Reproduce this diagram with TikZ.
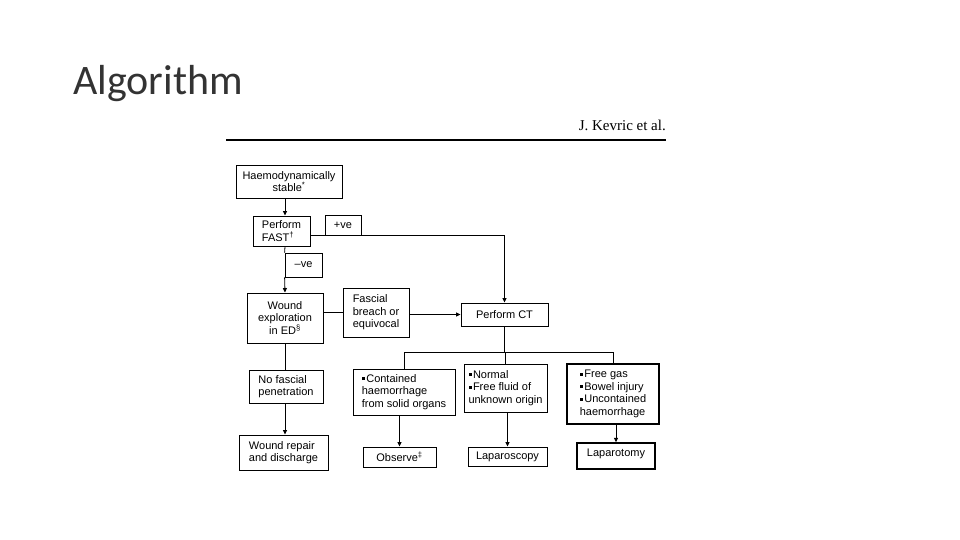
\documentclass[tikz,border=0pt]{standalone}
\usepackage{fontspec}
\usetikzlibrary{arrows.meta}
\newfontfamily\boxfont{Liberation Sans}
\newfontfamily\headfont{Liberation Serif}
\newfontfamily\titlefont{Carlito}
\newcommand{\bul}{\raisebox{2.2pt}{\rule{3pt}{3pt}}\hspace{1.5pt}}

\tikzset{
  box/.style={draw, line width=0.9pt, inner sep=2pt, font=\boxfont\fontsize{11}{12.5}\selectfont},
  tag/.style={box, line width=0.8pt},
  link/.style={line width=0.8pt},
  arr/.style={link, -{Triangle[length=4.5pt,width=4pt]}}
}

\begin{document}
\begin{tikzpicture}[x=1pt,y=-1pt]
  \useasboundingbox (0,0) rectangle (960,540);

  % title and page header
  \node[anchor=base west, inner sep=0, text=black!80, font=\titlefont\fontsize{42}{42}\selectfont] (title) at (73,95) {Algorithm};
  \node[anchor=base east, inner sep=0, font=\headfont\fontsize{15}{15}\selectfont] (head) at (666,131) {J. Kevric et al.};
  \draw[line width=1.8pt] (226,140) -- (666,140);

  % boxes
  \node[box, minimum width=106pt, minimum height=33pt, align=center] (haemo) at (289,181.5) {Haemodynamically\\stable\textsuperscript{*}};
  \node[box, minimum width=57pt, minimum height=30pt, align=left] (fast) at (281.5,231) {Perform\\FAST\textsuperscript{†}};
  \node[tag, minimum width=36pt, minimum height=20pt] (pos) at (343,225) {+ve};
  \node[tag, minimum width=37pt, minimum height=24pt] (neg) at (303.5,265) {–ve};
  \node[box, minimum width=76pt, minimum height=50pt, align=center] (wound) at (285,318) {Wound\\exploration\\in ED\textsuperscript{§}};
  \node[box, minimum width=66pt, minimum height=49pt, align=left] (fascial) at (376,312.5) {Fascial\\breach or\\equivocal};
  \node[box, minimum width=87pt, minimum height=23pt, align=left] (ct) at (504.5,314.5) {Perform CT};
  \node[box, minimum width=74pt, minimum height=33pt, align=left] (nofasc) at (286,386.5) {No fascial\\penetration};
  \node[box, minimum width=89pt, minimum height=35pt, align=left] (repair) at (283.5,452.5) {Wound repair\\and discharge};
  \node[box, minimum width=102pt, minimum height=46pt, align=left] (contained) at (404,392) {\bul Contained\\haemorrhage\\from solid organs};
  \node[box, minimum width=83pt, minimum height=48pt, align=left] (normal) at (505.5,388) {\bul Normal\\\bul Free fluid of\\unknown origin};
  \node[box, line width=1.4pt, minimum width=92pt, minimum height=60pt, align=left] (freegas) at (613,394) {\bul Free gas\\\bul Bowel injury\\\bul Uncontained\\haemorrhage};
  \node[box, minimum width=73pt, minimum height=20pt] (observe) at (399.5,457) {Observe\textsuperscript{‡}};
  \node[box, minimum width=79pt, minimum height=19pt] (lapscopy) at (507.5,456.5) {Laparoscopy};
  \node[box, line width=1.4pt, minimum width=78pt, minimum height=26pt, text depth=6pt] (laptomy) at (616,456) {Laparotomy};

  \coordinate (bus) at (507,352);

  % connectors
  \draw[arr] (haemo.south -| wound.north) -- (fast.north -| wound.north);
  \draw[link] (fast.south -| wound.north) -- (neg.north west);
  \draw[arr] (neg.south west) -- (wound.north);
  \draw[arr] (fast.east |- pos.south) -| (ct.north);
  \draw[link] (wound.east |- fascial.west) -- (fascial.west);
  \draw[arr] (fascial.east |- ct.west) -- (ct.west);
  \draw[link] (wound.south) -- (wound.south |- nofasc.north);
  \draw[arr] (nofasc.south -| wound.south) -- (repair.north -| wound.south);
  \foreach \b in {contained,normal,freegas}
    \draw[link] (ct.south) |- (\b.north |- bus) -- (\b.north);
  \draw[arr] (contained.south -| observe.north) -- (observe.north);
  \draw[arr] (normal.south -| lapscopy.north) -- (lapscopy.north);
  \draw[arr] (freegas.south -| laptomy.north) -- (laptomy.north);
\end{tikzpicture}
\end{document}
